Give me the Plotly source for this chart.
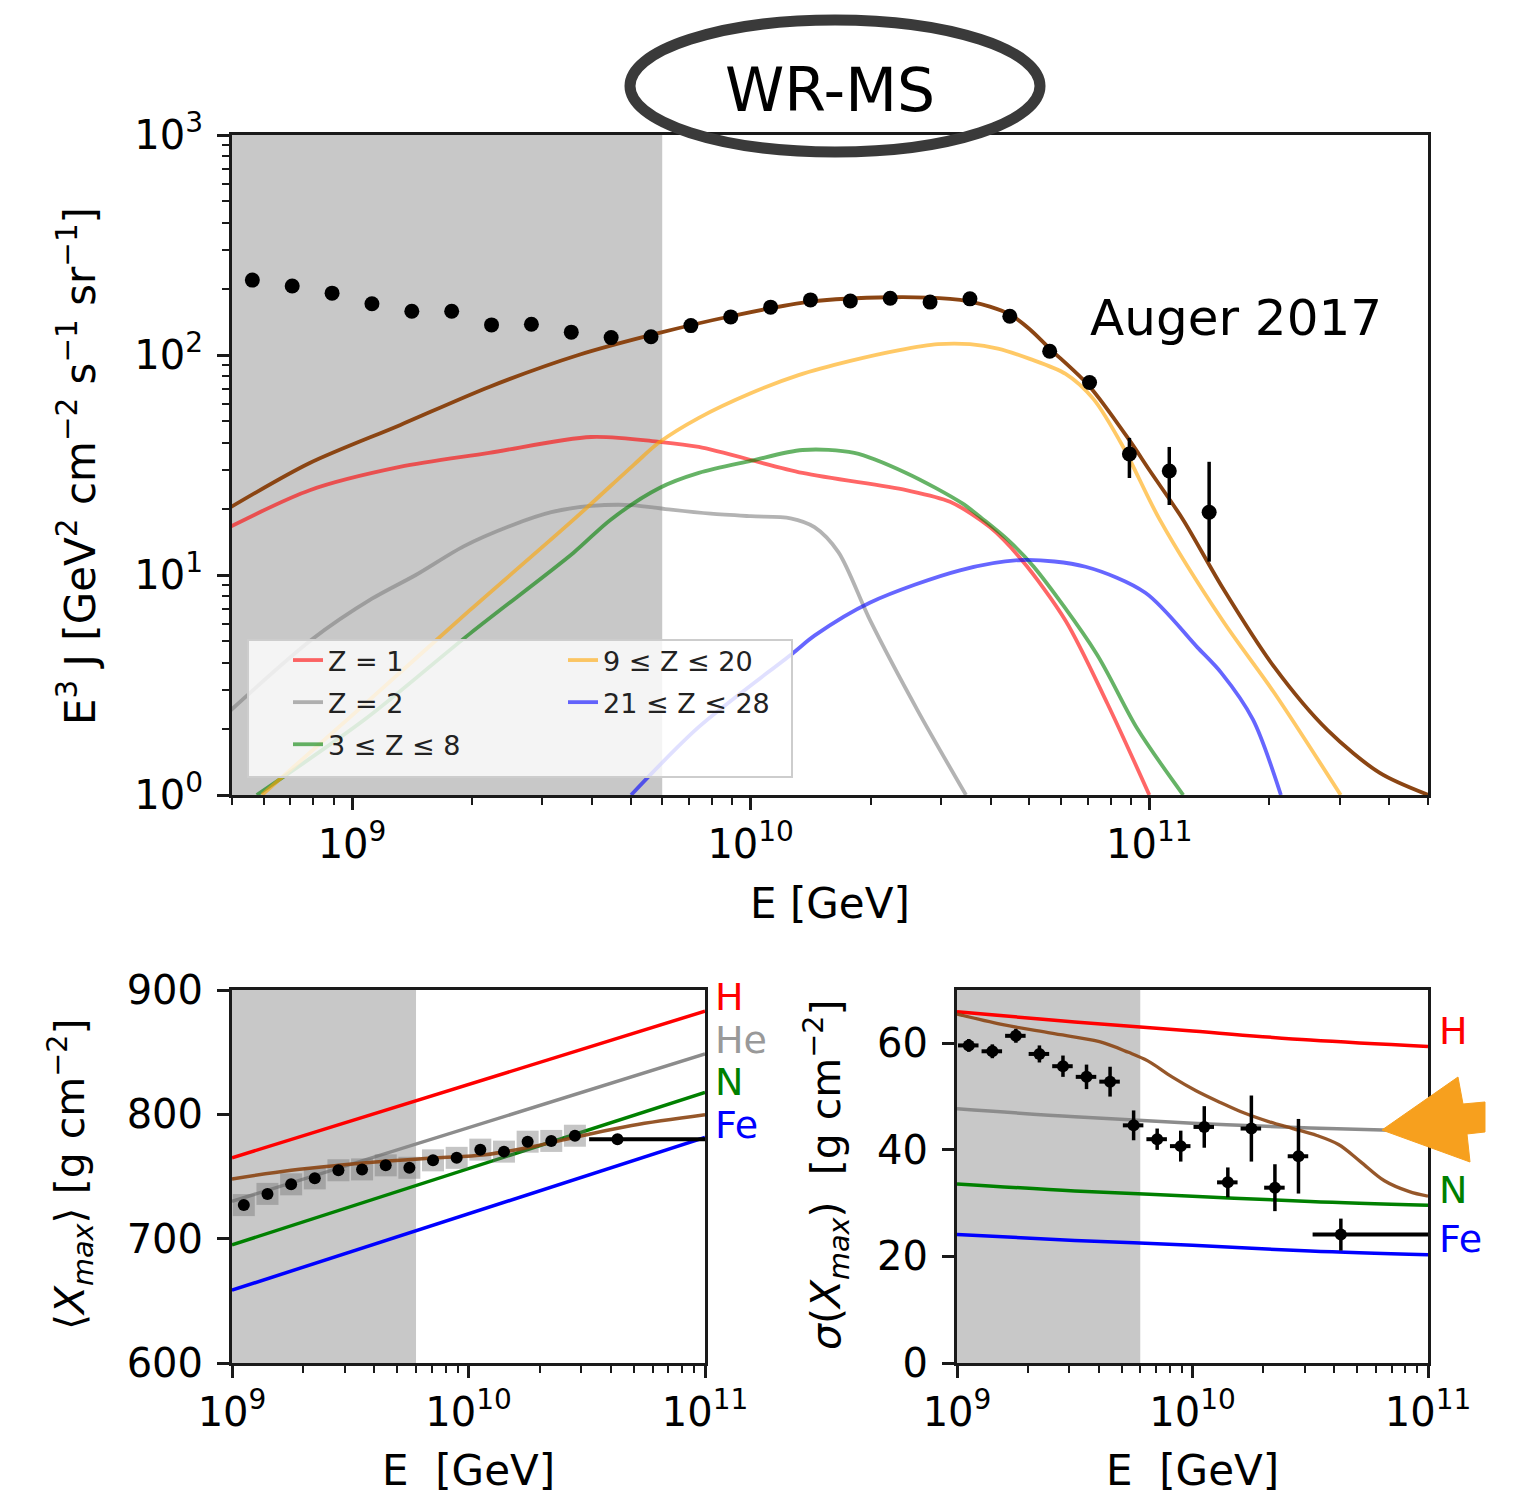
import numpy as np
import plotly.graph_objects as go

W, H = 1520, 1503
FONT = "DejaVu Sans"
AXC = "#1a1a1a"


def px(x):
    return x / W


def py(y):
    return 1 - y / H


# ---------------- top panel: E^3 J spectrum ----------------
spec_logE = [8.75, 8.85, 8.95, 9.05, 9.15, 9.25, 9.35, 9.45, 9.55, 9.65, 9.75, 9.85, 9.95,
             10.05, 10.15, 10.25, 10.35, 10.45, 10.55, 10.65, 10.75, 10.85, 10.95, 11.05, 11.15]
spec_J = [219, 206, 191, 171, 158, 158, 137, 138, 127, 120, 121, 136, 149,
          165, 178, 176, 181, 174, 180, 150, 104, 75, 35.5, 29.7, 19.3]
spec_err_up = [2, 2, 2, 2, 2, 2, 2, 2, 2, 2, 2, 2, 2, 2, 2, 2, 2, 2, 2, 2, 2, 3, 6.5, 8.5, 13.4]
spec_err_dn = [2, 2, 2, 2, 2, 2, 2, 2, 2, 2, 2, 2, 2, 2, 2, 2, 2, 2, 2, 2, 2, 3, 7.9, 8.9, 7.8]

total_logE = [8.693, 8.894, 9.12, 9.344, 9.568, 9.771, 9.95, 10.15, 10.35, 10.5, 10.55, 10.6,
              10.65, 10.7, 10.75, 10.85, 10.95, 11.0, 11.085, 11.183, 11.314, 11.447, 11.578,
              11.70]
total_J = [20.2, 32.3, 48, 71.6, 100, 126, 150, 175, 183, 180, 175, 166,
           153, 131, 107, 72, 41, 30, 17.8, 8.8, 3.8, 1.97, 1.26,
           1.0]

z1_logE = [8.693, 8.894, 9.12, 9.344, 9.6, 9.771, 9.87, 10.13, 10.39, 10.5, 10.6,
           10.68, 10.79, 10.895, 11.0]
z1_J = [16.5, 24.3, 31, 35.9, 42.4, 40.3, 38.2, 29.1, 24.3, 21.5, 16.5,
        11.7, 6.2, 2.6, 1.0]

z2_logE = [8.693, 8.9, 9.05, 9.16, 9.28, 9.4, 9.5, 9.6, 9.7, 9.8, 9.9, 10.0, 10.1, 10.16,
           10.22, 10.3, 10.42, 10.54]
z2_J = [2.4, 5.1, 7.8, 10, 13.5, 16.8, 19.3, 20.6, 20.8, 19.8, 19.0, 18.5, 18.1, 16.5,
        12.7, 6.2, 2.4, 1.0]

z3_8_logE = [8.761, 9.03, 9.295, 9.555, 9.648, 9.77, 9.87, 10.0, 10.13, 10.26, 10.39, 10.53,
             10.585, 10.646, 10.71, 10.867, 10.97, 11.085]
z3_8_J = [1.0, 2.19, 5.4, 12.6, 17.8, 24.8, 29.1, 33, 37, 35.9, 29.1, 21.2,
          17.8, 14.4, 10.9, 4.4, 2.0, 1.0]

z9_20_logE = [8.774, 9.03, 9.295, 9.555, 9.706, 9.77, 9.87, 10.0, 10.12, 10.25, 10.37, 10.47,
              10.55, 10.62, 10.7, 10.79, 10.86, 10.935, 11.025, 11.183, 11.314, 11.48]
z9_20_J = [1.0, 2.57, 6.9, 17.8, 31.6, 40, 51.8, 67, 81, 94, 105, 112,
           112, 107, 96, 82, 63, 38, 18, 6.24, 2.9, 1.0]

z21_28_logE = [9.70, 9.87, 10.105, 10.16, 10.30, 10.525, 10.683, 10.84, 10.99, 11.12, 11.18,
               11.26, 11.33]
z21_28_J = [1.0, 2.04, 4.4, 5.3, 7.5, 10.5, 11.7, 10.9, 8.3, 4.7, 3.6, 2.2, 1.0]

top_xrange = [5e8, 5e11]
top_yrange = [1, 1000]
top_xticks = [1e9, 1e10, 1e11]
top_xticktext = ["10<sup>9</sup>", "10<sup>10</sup>", "10<sup>11</sup>"]
top_yticks = [1, 10, 100, 1000]
top_yticktext = ["10<sup>0</sup>", "10<sup>1</sup>", "10<sup>2</sup>", "10<sup>3</sup>"]
shade_Emax = 6e9

# ---------------- bottom panels: Xmax ----------------
xmax_logE = [9.05, 9.15, 9.25, 9.35, 9.45, 9.55, 9.65, 9.75, 9.85, 9.95, 10.05, 10.15,
             10.25, 10.35, 10.45]
xmax_mean = [727, 736, 743.7, 748.5, 755, 755.7, 759, 757, 763, 765, 771.6, 770,
             778, 778.6, 782.8]
xmax_mean_err = [2, 2, 2, 2, 2, 2, 2, 2, 2, 2, 2, 2, 2.5, 2.5, 3]
xmax_sigma = [59.6, 58.5, 61.4, 58.0, 55.7, 53.7, 52.8, 44.6, 42.0, 40.7, 44.3, 33.9,
              44.0, 32.9, 38.8]
xmax_sigma_err = [1.2, 1.3, 1.3, 1.6, 2.0, 2.3, 2.8, 2.8, 2.0, 2.9, 3.9, 2.8,
                  6.2, 4.4, 7.0]
# last wide bin
last_logE = 10.63
last_logE_lo = 10.51
last_logE_hi = 11.0
last_mean = 780
last_mean_err = 2
last_sigma = 24.1
last_sigma_err = 3.0

ref_logE = [9.0, 11.0]
mean_H = [765, 883]
mean_He = [730, 848.5]
mean_N = [695, 817.7]
mean_Fe = [658.6, 781.4]
mean_model_logE = [9.0, 9.25, 9.45, 9.66, 9.86, 10.07, 10.28, 10.48, 10.69, 11.0]
mean_model = [748, 755, 759, 762.4, 765, 767.5, 774.4, 782.8, 791, 799.6]

sig_ref_logE = [9.0, 9.5, 10.0, 10.5, 11.0]
sig_H = [65.9, 64.0, 62.3, 60.6, 59.4]
sig_He = [47.7, 46.2, 45.0, 44.1, 43.5]
sig_N = [33.6, 32.3, 31.3, 30.3, 29.6]
sig_Fe = [24.1, 23.0, 22.1, 21.0, 20.3]
sig_model_logE = [9.0, 9.195, 9.4, 9.605, 9.728, 9.81, 9.913, 10.015, 10.118, 10.22, 10.323,
                  10.426, 10.528, 10.62, 10.713, 10.815, 10.918, 11.0]
sig_model = [65.5, 63.5, 61.9, 60.3, 58.3, 56.7, 53.7, 51.1, 48.9, 46.9, 45.3,
             44.0, 42.7, 41.0, 37.8, 34.2, 32.2, 31.3]

bot_xrange = [1e9, 1e11]
bot_xticks = [1e9, 1e10, 1e11]
bot_xticktext = ["10<sup>9</sup>", "10<sup>10</sup>", "10<sup>11</sup>"]
mean_yticks = [600, 700, 800, 900]
mean_yrange = [600, 900]
sig_yticks = [0, 20, 40, 60]
sig_yrange = [0, 70]

# --------------------------------------------------------
def E(lst):
    return 10 ** np.array(lst, dtype=float)


fig = go.Figure()

# shaded (excluded) energy region, drawn first so everything sits on top
for xa, ya, yr in [("x", "y", top_yrange), ("x2", "y2", mean_yrange), ("x3", "y3", sig_yrange)]:
    x_lo = top_xrange[0] if xa == "x" else bot_xrange[0]
    fig.add_trace(go.Scatter(x=[x_lo, shade_Emax, shade_Emax, x_lo], y=[yr[0], yr[0], yr[1], yr[1]],
                             mode="lines", fill="toself", fillcolor="rgb(200,200,200)",
                             line=dict(width=0, color="rgb(200,200,200)"),
                             xaxis=xa, yaxis=ya, showlegend=False, hoverinfo="skip"))

SPL = dict(shape="spline", smoothing=0.85)
comp = [
    ("Z = 1", z1_logE, z1_J, "rgba(255,0,0,0.6)", "legend"),
    ("Z = 2", z2_logE, z2_J, "rgba(128,128,128,0.6)", "legend"),
    ("3 ≤ Z ≤ 8", z3_8_logE, z3_8_J, "rgba(0,128,0,0.6)", "legend"),
    ("9 ≤ Z ≤ 20", z9_20_logE, z9_20_J, "rgba(255,165,0,0.6)", "legend2"),
    ("21 ≤ Z ≤ 28", z21_28_logE, z21_28_J, "rgba(0,0,255,0.6)", "legend2"),
]
for i, (name, lx, ly, col, lg) in enumerate(comp):
    fig.add_trace(go.Scatter(x=E(lx), y=ly, mode="lines", name=name,
                             line=dict(color=col, width=3.8, **SPL),
                             xaxis="x", yaxis="y", legend=lg, legendgroup=f"g{i}",
                             showlegend=True))
fig.add_trace(go.Scatter(x=E(total_logE), y=total_J, mode="lines", name="total",
                         line=dict(color="#8B4513", width=3.8, **SPL),
                         xaxis="x", yaxis="y", showlegend=False))
fig.add_trace(go.Scatter(x=E(spec_logE), y=spec_J, mode="markers", name="Auger 2017",
                         marker=dict(color="black", size=15),
                         error_y=dict(type="data", array=spec_err_up, arrayminus=spec_err_dn,
                                      color="black", thickness=3.5, width=0),
                         xaxis="x", yaxis="y", showlegend=False))

# bottom left: <Xmax>
for ly, col in [(mean_H, "#ff0000"), (mean_He, "#8c8c8c"), (mean_N, "#008000"), (mean_Fe, "#0000ff")]:
    fig.add_trace(go.Scatter(x=E(ref_logE), y=ly, mode="lines", line=dict(color=col, width=3.5),
                             xaxis="x2", yaxis="y2", showlegend=False))
fig.add_trace(go.Scatter(x=E(xmax_logE), y=xmax_mean, mode="markers",
                         marker=dict(color="rgba(110,110,110,0.4)", size=22, symbol="square"),
                         xaxis="x2", yaxis="y2", showlegend=False, hoverinfo="skip"))
fig.add_trace(go.Scatter(x=E(mean_model_logE), y=mean_model, mode="lines",
                         line=dict(color="rgba(139,69,19,0.9)", width=3.5, shape="spline"),
                         xaxis="x2", yaxis="y2", showlegend=False))
fig.add_trace(go.Scatter(x=E(xmax_logE), y=xmax_mean, mode="markers",
                         marker=dict(color="black", size=12),
                         error_y=dict(type="data", array=xmax_mean_err, color="black",
                                      thickness=3, width=0),
                         xaxis="x2", yaxis="y2", showlegend=False))
lastE = 10 ** last_logE
fig.add_trace(go.Scatter(x=[lastE], y=[last_mean], mode="markers",
                         marker=dict(color="black", size=12),
                         error_x=dict(type="data", array=[10 ** last_logE_hi - lastE],
                                      arrayminus=[lastE - 10 ** last_logE_lo],
                                      color="black", thickness=4, width=0),
                         error_y=dict(type="data", array=[last_mean_err], color="black",
                                      thickness=3, width=0),
                         xaxis="x2", yaxis="y2", showlegend=False))

# bottom right: sigma(Xmax)
for ly, col in [(sig_H, "#ff0000"), (sig_He, "#8c8c8c"), (sig_N, "#008000"), (sig_Fe, "#0000ff")]:
    fig.add_trace(go.Scatter(x=E(sig_ref_logE), y=ly, mode="lines",
                             line=dict(color=col, width=3.5, shape="spline"),
                             xaxis="x3", yaxis="y3", showlegend=False))
fig.add_trace(go.Scatter(x=E(sig_model_logE), y=sig_model, mode="lines",
                         line=dict(color="rgba(139,69,19,0.9)", width=3.3, shape="spline"),
                         xaxis="x3", yaxis="y3", showlegend=False))
fig.add_trace(go.Scatter(x=E(xmax_logE), y=xmax_sigma, mode="markers",
                         marker=dict(color="black", size=12),
                         error_y=dict(type="data", array=xmax_sigma_err, color="black",
                                      thickness=3.5, width=0),
                         error_x=dict(type="percent", value=10, color="black",
                                      thickness=4, width=0),
                         xaxis="x3", yaxis="y3", showlegend=False))
fig.add_trace(go.Scatter(x=[lastE], y=[last_sigma], mode="markers",
                         marker=dict(color="black", size=12),
                         error_x=dict(type="data", array=[10 ** last_logE_hi - lastE],
                                      arrayminus=[lastE - 10 ** last_logE_lo],
                                      color="black", thickness=4, width=0),
                         error_y=dict(type="data", array=[last_sigma_err], color="black",
                                      thickness=3.5, width=0),
                         xaxis="x3", yaxis="y3", showlegend=False))

tickfont = dict(family=FONT, size=40, color="black")


def log_minor(lo, hi):
    vals = []
    for p in range(8, 12):
        for m in range(2, 10):
            v = m * 10 ** p
            if lo <= v <= hi:
                vals.append(v)
    return vals


axis_common = dict(showline=True, linecolor=AXC, linewidth=3, mirror=True,
                   ticks="outside", ticklen=12, tickwidth=2.5, tickcolor=AXC,
                   showgrid=False, zeroline=False, automargin=False, tickfont=tickfont)
minor_common = dict(tickmode="array", ticks="outside", ticklen=7, tickwidth=2, tickcolor=AXC,
                    showgrid=False)

fig.update_layout(
    width=W, height=H, margin=dict(l=0, r=0, t=0, b=0),
    paper_bgcolor="white", plot_bgcolor="white",
    font=dict(family=FONT, color="black"),
    xaxis=dict(axis_common, domain=[px(232), px(1428)], anchor="y", type="log",
               range=[np.log10(top_xrange[0]), np.log10(top_xrange[1])],
               tickmode="array", tickvals=top_xticks, ticktext=top_xticktext,
               minor=dict(minor_common, tickvals=log_minor(*top_xrange))),
    yaxis=dict(axis_common, domain=[py(795), py(135)], anchor="x", type="log",
               range=[np.log10(top_yrange[0]), np.log10(top_yrange[1])],
               tickmode="array", tickvals=top_yticks, ticktext=top_yticktext,
               ticklabelstandoff=6,
               minor=dict(minor_common,
                          tickvals=[m * 10 ** p for p in range(0, 3) for m in range(2, 10)])),
    xaxis2=dict(axis_common, domain=[px(232), px(705)], anchor="y2", type="log",
                range=[np.log10(bot_xrange[0]), np.log10(bot_xrange[1])],
                tickmode="array", tickvals=bot_xticks, ticktext=bot_xticktext,
                minor=dict(minor_common, tickvals=log_minor(*bot_xrange))),
    yaxis2=dict(axis_common, domain=[py(1363), py(990)], anchor="x2",
                range=mean_yrange, tickmode="array", tickvals=mean_yticks,
                ticklabelstandoff=6),
    xaxis3=dict(axis_common, domain=[px(957), px(1428)], anchor="y3", type="log",
                range=[np.log10(bot_xrange[0]), np.log10(bot_xrange[1])],
                tickmode="array", tickvals=bot_xticks, ticktext=bot_xticktext,
                minor=dict(minor_common, tickvals=log_minor(*bot_xrange))),
    yaxis3=dict(axis_common, domain=[py(1363), py(990)], anchor="x3",
                range=sig_yrange, tickmode="array", tickvals=sig_yticks,
                ticklabelstandoff=6),
    legend=dict(x=px(288), y=py(636), xanchor="left", yanchor="top",
                bgcolor="rgba(0,0,0,0)", borderwidth=0, traceorder="grouped",
                tracegroupgap=4, font=dict(family=FONT, size=27, color="#222")),
    legend2=dict(x=px(563), y=py(636), xanchor="left", yanchor="top",
                 bgcolor="rgba(0,0,0,0)", borderwidth=0, traceorder="grouped",
                 tracegroupgap=4, font=dict(family=FONT, size=27, color="#222")),
)

shapes = []
# legend box
shapes.append(dict(type="rect", xref="paper", yref="paper", x0=px(248), x1=px(792),
                   y0=py(777), y1=py(640), fillcolor="rgba(255,255,255,0.8)",
                   line=dict(color="rgba(205,205,205,1)", width=2), layer="above"))
# hand-drawn ellipse around title
shapes.append(dict(type="circle", xref="paper", yref="paper", x0=px(630), x1=px(1040),
                   y0=py(152), y1=py(20), line=dict(color="#3a3a3a", width=11),
                   fillcolor="rgba(0,0,0,0)", layer="above"))
# orange arrow
arrow_pts = [(1382, 1130), (1458, 1077), (1463, 1104), (1485, 1102), (1485, 1132),
             (1467, 1134), (1470, 1162)]
path = "M " + " L ".join(f"{px(x):.5f},{py(y):.5f}" for x, y in arrow_pts) + " Z"
shapes.append(dict(type="path", xref="paper", yref="paper", path=path,
                   fillcolor="#F7A01E", line=dict(color="#F7A01E", width=1), layer="above"))
fig.update_layout(shapes=shapes)

ann = []


def text(t, x, y, size, color="black", xanchor="center", angle=0):
    ann.append(dict(text=t, x=px(x), y=py(y), xref="paper", yref="paper", showarrow=False,
                    xanchor=xanchor, yanchor="middle", textangle=angle,
                    font=dict(family=FONT, size=size, color=color)))


text("WR-MS", 830, 90, 60)
text("Auger 2017", 1088, 318, 50, xanchor="left")
text("E [GeV]", 830, 903, 42)
text("E<sup>3</sup> J [GeV<sup>2</sup> cm<sup>−2</sup> s<sup>−1</sup> sr<sup>−1</sup>]",
     78, 466, 42, angle=-90)
text("E\u00a0\u00a0[GeV]", 468, 1470, 42)
text("E\u00a0\u00a0[GeV]", 1192, 1470, 42)
text("⟨<i>X</i><sub><i>max</i></sub>⟩ [g cm<sup>−2</sup>]", 70, 1175, 41, angle=-90)
text("<i>σ</i>(<i>X</i><sub><i>max</i></sub>)\u00a0\u00a0[g cm<sup>−2</sup>]", 826, 1175, 41,
     angle=-90)
# element labels
text("H", 713, 997, 38, "#ff0000", "left")
text("He", 713, 1040, 38, "#999999", "left")
text("N", 713, 1082, 38, "#008000", "left")
text("Fe", 713, 1125, 38, "#0000ff", "left")
text("H", 1437, 1031, 38, "#ff0000", "left")
text("N", 1437, 1190, 38, "#008000", "left")
text("Fe", 1437, 1239, 38, "#0000ff", "left")
fig.update_layout(annotations=ann)

fig.write_html("out.html")
